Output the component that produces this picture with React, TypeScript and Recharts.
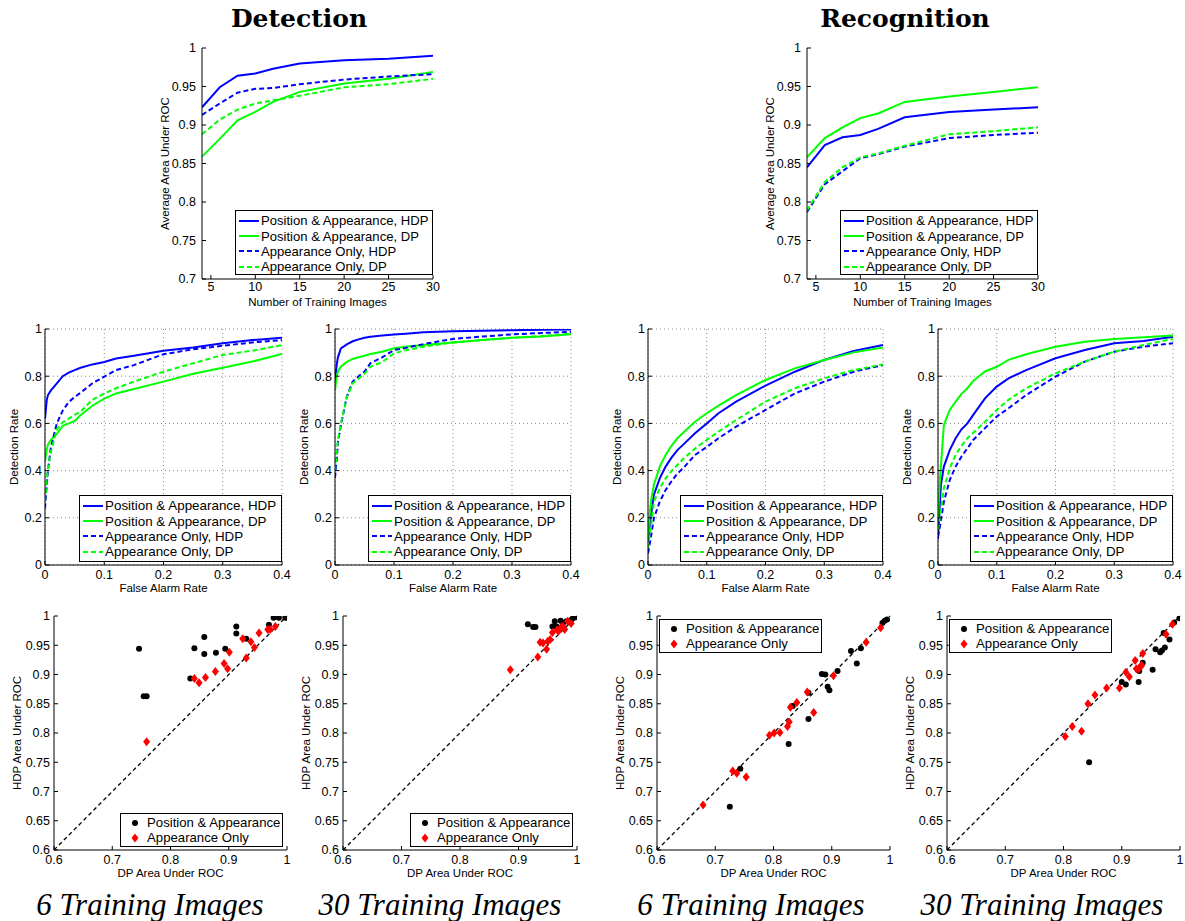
import React from 'react';
import {
  LineChart,
  Line,
  ScatterChart,
  Scatter,
  XAxis,
  YAxis,
  CartesianGrid,
  ReferenceLine,
  Legend,
} from 'recharts';

const SANS = 'Arial, "Liberation Sans", Helvetica, sans-serif';
const BLUE = '#0000ff';
const GREEN = '#00ff00';
const RED = '#ff0000';

// ---- top row: average AUC vs number of training images ----
const trainSizes = [4, 6, 8, 10, 12, 15, 20, 25, 30];
const detPosHdp = [0.923, 0.949, 0.964, 0.967, 0.973, 0.98, 0.984, 0.986, 0.99];
const detPosDp = [0.859, 0.882, 0.906, 0.917, 0.93, 0.943, 0.954, 0.96, 0.969];
const detAppHdp = [0.913, 0.928, 0.942, 0.947, 0.948, 0.953, 0.959, 0.963, 0.966];
const detAppDp = [0.888, 0.907, 0.92, 0.928, 0.932, 0.938, 0.949, 0.953, 0.96];
const recPosHdp = [0.845, 0.874, 0.884, 0.887, 0.895, 0.91, 0.917, 0.92, 0.923];
const recPosDp = [0.858, 0.883, 0.897, 0.909, 0.915, 0.93, 0.937, 0.943, 0.949];
const recAppHdp = [0.787, 0.823, 0.84, 0.857, 0.862, 0.872, 0.883, 0.887, 0.89];
const recAppDp = [0.789, 0.826, 0.845, 0.858, 0.863, 0.873, 0.888, 0.892, 0.897];
const sizeTicks = [5, 10, 15, 20, 25, 30];
const aucTicks = [0.7, 0.75, 0.8, 0.85, 0.9, 0.95, 1];

// ---- middle row: ROC curves ----
const faRate = [0, 0.003, 0.005, 0.01, 0.02, 0.03, 0.04, 0.05, 0.06, 0.08, 0.1, 0.12, 0.15, 0.2, 0.25, 0.3, 0.35, 0.4];
const roc6DetPosHdp = [0.62, 0.7, 0.72, 0.74, 0.77, 0.8, 0.815, 0.826, 0.836, 0.85, 0.86, 0.875, 0.887, 0.908, 0.922, 0.94, 0.953, 0.963];
const roc6DetPosDp = [0.44, 0.49, 0.51, 0.53, 0.556, 0.59, 0.6, 0.61, 0.635, 0.675, 0.705, 0.727, 0.746, 0.777, 0.81, 0.836, 0.862, 0.894];
const roc6DetAppHdp = [0.24, 0.34, 0.4, 0.5, 0.6, 0.655, 0.69, 0.712, 0.73, 0.77, 0.798, 0.826, 0.847, 0.893, 0.914, 0.929, 0.943, 0.953];
const roc6DetAppDp = [0.27, 0.36, 0.41, 0.48, 0.575, 0.605, 0.62, 0.636, 0.65, 0.7, 0.727, 0.749, 0.777, 0.819, 0.855, 0.89, 0.908, 0.932];
const roc30DetPosHdp = [0.78, 0.85, 0.88, 0.918, 0.935, 0.948, 0.956, 0.963, 0.967, 0.972, 0.977, 0.98, 0.986, 0.99, 0.993, 0.995, 0.997, 0.998];
const roc30DetPosDp = [0.74, 0.8, 0.82, 0.84, 0.861, 0.873, 0.88, 0.887, 0.894, 0.904, 0.918, 0.925, 0.932, 0.943, 0.953, 0.963, 0.968, 0.978];
const roc30DetAppHdp = [0.37, 0.45, 0.52, 0.593, 0.713, 0.777, 0.8, 0.82, 0.855, 0.88, 0.911, 0.92, 0.936, 0.958, 0.968, 0.977, 0.983, 0.988];
const roc30DetAppDp = [0.4, 0.48, 0.53, 0.6, 0.71, 0.77, 0.79, 0.81, 0.84, 0.86, 0.897, 0.91, 0.925, 0.943, 0.953, 0.963, 0.97, 0.98];
const roc6RecPosHdp = [0.1, 0.17, 0.21, 0.297, 0.367, 0.417, 0.455, 0.487, 0.51, 0.558, 0.6, 0.643, 0.692, 0.76, 0.819, 0.869, 0.907, 0.932];
const roc6RecPosDp = [0.12, 0.22, 0.27, 0.34, 0.417, 0.466, 0.505, 0.537, 0.56, 0.607, 0.643, 0.675, 0.72, 0.784, 0.833, 0.869, 0.901, 0.922];
const roc6RecAppHdp = [0.05, 0.09, 0.12, 0.198, 0.268, 0.318, 0.355, 0.388, 0.41, 0.466, 0.5, 0.537, 0.586, 0.657, 0.727, 0.777, 0.819, 0.847];
const roc6RecAppDp = [0.07, 0.13, 0.16, 0.268, 0.325, 0.367, 0.398, 0.424, 0.45, 0.494, 0.53, 0.565, 0.614, 0.692, 0.749, 0.791, 0.826, 0.85];
const roc30RecPosHdp = [0.11, 0.25, 0.34, 0.417, 0.487, 0.537, 0.575, 0.6, 0.636, 0.706, 0.756, 0.791, 0.826, 0.876, 0.911, 0.94, 0.949, 0.967];
const roc30RecPosDp = [0.2, 0.35, 0.42, 0.593, 0.657, 0.692, 0.725, 0.749, 0.78, 0.82, 0.84, 0.869, 0.893, 0.925, 0.946, 0.958, 0.965, 0.972];
const roc30RecAppHdp = [0.12, 0.16, 0.19, 0.268, 0.36, 0.417, 0.46, 0.494, 0.53, 0.58, 0.629, 0.664, 0.72, 0.798, 0.862, 0.904, 0.925, 0.94];
const roc30RecAppDp = [0.15, 0.2, 0.23, 0.325, 0.41, 0.466, 0.505, 0.537, 0.56, 0.607, 0.657, 0.7, 0.749, 0.812, 0.862, 0.904, 0.932, 0.958];
const faTicks = [0, 0.1, 0.2, 0.3, 0.4];
const rateTicks = [0, 0.2, 0.4, 0.6, 0.8, 1];

// ---- bottom row: per-category AUC, DP (x) against HDP (y) ----
const det6PosDp = [0.746, 0.754, 0.759, 0.834, 0.841, 0.858, 0.858, 0.878, 0.894, 0.913, 0.913, 0.93, 0.969, 0.977, 0.986, 0.997];
const det6PosHdp = [0.944, 0.863, 0.863, 0.893, 0.945, 0.964, 0.935, 0.937, 0.944, 0.982, 0.97, 0.961, 0.985, 0.997, 0.997, 0.997];
const det6AppDp = [0.759, 0.841, 0.849, 0.86, 0.877, 0.892, 0.898, 0.901, 0.924, 0.93, 0.938, 0.944, 0.952, 0.967, 0.971, 0.98];
const det6AppHdp = [0.785, 0.893, 0.886, 0.895, 0.905, 0.919, 0.91, 0.938, 0.961, 0.928, 0.956, 0.946, 0.971, 0.977, 0.977, 0.982];
const det30PosDp = [0.916, 0.925, 0.929, 0.958, 0.962, 0.965, 0.968, 0.972, 0.976, 0.982, 0.986, 0.99, 0.993, 0.998];
const det30PosHdp = [0.986, 0.981, 0.981, 0.982, 0.991, 0.982, 0.978, 0.992, 0.988, 0.991, 0.99, 0.993, 0.996, 0.998];
const det30AppDp = [0.886, 0.933, 0.937, 0.942, 0.948, 0.95, 0.954, 0.958, 0.966, 0.969, 0.973, 0.976, 0.979, 0.984, 0.99];
const det30AppHdp = [0.908, 0.93, 0.955, 0.954, 0.943, 0.957, 0.96, 0.972, 0.976, 0.975, 0.981, 0.982, 0.977, 0.991, 0.987];
const rec6PosDp = [0.725, 0.743, 0.826, 0.833, 0.86, 0.86, 0.883, 0.889, 0.893, 0.896, 0.91, 0.933, 0.943, 0.95, 0.987, 0.991, 0.995];
const rec6PosHdp = [0.674, 0.739, 0.781, 0.846, 0.824, 0.869, 0.901, 0.9, 0.879, 0.873, 0.906, 0.94, 0.919, 0.945, 0.988, 0.992, 0.994];
const rec6AppDp = [0.679, 0.73, 0.737, 0.753, 0.793, 0.801, 0.811, 0.824, 0.827, 0.829, 0.84, 0.858, 0.869, 0.903, 0.959, 0.984];
const rec6AppHdp = [0.677, 0.735, 0.731, 0.725, 0.796, 0.8, 0.801, 0.811, 0.819, 0.844, 0.852, 0.87, 0.835, 0.898, 0.955, 0.98];
const rec30PosDp = [0.844, 0.9, 0.907, 0.929, 0.93, 0.936, 0.953, 0.958, 0.966, 0.969, 0.974, 0.982, 0.99, 0.999, 0.972];
const rec30PosHdp = [0.75, 0.887, 0.883, 0.887, 0.906, 0.92, 0.908, 0.943, 0.938, 0.941, 0.946, 0.96, 0.989, 0.996, 0.971];
const rec30AppDp = [0.803, 0.815, 0.831, 0.842, 0.854, 0.874, 0.896, 0.907, 0.913, 0.923, 0.925, 0.929, 0.933, 0.934, 0.936, 0.976, 0.987];
const rec30AppHdp = [0.794, 0.811, 0.803, 0.85, 0.865, 0.877, 0.877, 0.904, 0.896, 0.924, 0.91, 0.91, 0.914, 0.916, 0.936, 0.969, 0.986];
const scatterXTicks = [0.6, 0.7, 0.8, 0.9, 1];
const scatterYTicks = [0.6, 0.65, 0.7, 0.75, 0.8, 0.85, 0.9, 0.95, 1];
const diagonal = [0.6, 1];

const curveLabels = ['Position & Appearance, HDP', 'Position & Appearance, DP', 'Appearance Only, HDP', 'Appearance Only, DP'];
const pointLabels = ['Position & Appearance', 'Appearance Only'];
const curveKeys = ['posHdp', 'posDp', 'appHdp', 'appDp'];
const curveStyles = [
  { color: BLUE, dash: undefined },
  { color: GREEN, dash: undefined },
  { color: BLUE, dash: '5 3' },
  { color: GREEN, dash: '5 3' },
];

type Box = { x: number; y: number; w: number; h: number };
type Row = { L: number; yGap: number; xGap: number };

const T = 8;
const R = 10;
const B = 46;
const TOP_ROW: Row = { L: 74, yGap: 6, xGap: 3 };
const MID_ROW: Row = { L: 62, yGap: 3, xGap: 5 };
const BOT_ROW: Row = { L: 74, yGap: 4, xGap: 5 };

const tickStyle = { fill: '#000', fontSize: 12.5, fontFamily: SANS };
const labelStyle = { fill: '#000', fontSize: 11.5, fontFamily: SANS };

function toRows(xs: number[], series: number[][]) {
  return xs.map((x, i) => {
    const row: Record<string, number> = { x };
    curveKeys.forEach((k, j) => (row[k] = series[j][i]));
    return row;
  });
}

function toPoints(dp: number[], hdp: number[]) {
  return dp.map((x, i) => ({ x, y: hdp[i] }));
}

// top and right edges of the MATLAB box, ticks pointing inward
function frameAxes(xDomain: number[], xTicks: number[], yDomain: number[], yTicks: number[]) {
  return [
    <XAxis key="ft" xAxisId="top" orientation="top" type="number" domain={xDomain} ticks={xTicks}
      allowDataOverflow height={0} tickSize={-4} tickFormatter={() => ''} stroke="#000" />,
    <YAxis key="fr" yAxisId="right" orientation="right" type="number" domain={yDomain} ticks={yTicks}
      allowDataOverflow width={0} tickSize={-4} tickFormatter={() => ''} stroke="#000" />,
  ];
}

function CurveKey({ width, height, fontSize }: { width: number; height: number; fontSize: number }) {
  return (
    <div style={{ boxSizing: 'border-box', width, height, border: '1px solid #000', background: '#fff',
      padding: '2px 0 0 3px', fontFamily: SANS, fontSize, color: '#000' }}>
      {curveLabels.map((label, i) => (
        <div key={label} style={{ display: 'flex', alignItems: 'center', height: 15.4, whiteSpace: 'nowrap' }}>
          <svg width={20} height={6} style={{ marginRight: 2, flex: 'none' }}>
            <line x1={0} y1={3} x2={20} y2={3} stroke={curveStyles[i].color} strokeWidth={2}
              strokeDasharray={curveStyles[i].dash} />
          </svg>
          <span>{label}</span>
        </div>
      ))}
    </div>
  );
}

function PointKey({ width, height }: { width: number; height: number }) {
  return (
    <div style={{ boxSizing: 'border-box', width, height, border: '1px solid #000', background: '#fff',
      padding: '1px 0 0 0', fontFamily: SANS, fontSize: 13.2, color: '#000' }}>
      {pointLabels.map((label, i) => (
        <div key={label} style={{ display: 'flex', alignItems: 'center', height: 15.3, whiteSpace: 'nowrap' }}>
          <svg width={26} height={10} style={{ flex: 'none' }}>
            {i === 0 ? <circle cx={14} cy={5} r={3} fill="#000" />
              : <polygon points="14,0.5 17.5,5 14,9.5 10.5,5" fill={RED} />}
          </svg>
          <span>{label}</span>
        </div>
      ))}
    </div>
  );
}

const dotShape = (p: any) => <circle cx={p.cx} cy={p.cy} r={3} fill="#000" />;
const diamondShape = (p: any) => (
  <polygon points={`${p.cx},${p.cy - 4.5} ${p.cx + 3.5},${p.cy} ${p.cx},${p.cy + 4.5} ${p.cx - 3.5},${p.cy}`} fill={RED} />
);

function CurvePanel({ box, row, data, xDomain, xTicks, yDomain, yTicks, xLabel, yLabel, grid, keyW, keyTop }: any) {
  const keyH = grid ? 67 : 65;
  return (
    <div style={{ position: 'absolute', left: box.x - row.L, top: box.y - T }}>
      <LineChart width={row.L + box.w + R} height={T + box.h + B} data={data}
        margin={{ top: T, right: R, left: 0, bottom: 0 }}>
        {grid && <CartesianGrid stroke="#8a8a8a" strokeDasharray="1 3" />}
        <XAxis type="number" dataKey="x" domain={xDomain} ticks={xTicks} allowDataOverflow interval={0}
          stroke="#000" tickSize={-4} tickMargin={4 + row.xGap} height={B} tick={tickStyle}
          label={{ value: xLabel, position: 'center', ...labelStyle }} />
        <YAxis type="number" domain={yDomain} ticks={yTicks} allowDataOverflow interval={0}
          stroke="#000" tickSize={-4} tickMargin={4 + row.yGap} width={row.L} tick={tickStyle}
          label={{ value: yLabel, angle: -90, position: 'center', ...labelStyle }} />
        {frameAxes(xDomain, xTicks, yDomain, yTicks)}
        {curveKeys.map((k, i) => (
          <Line key={k} type="linear" dataKey={k} stroke={curveStyles[i].color} strokeWidth={2}
            strokeDasharray={curveStyles[i].dash} dot={false} isAnimationActive={false} />
        ))}
        <Legend layout="vertical" align="center" verticalAlign="middle"
          wrapperStyle={{ left: row.L + box.w - keyW, top: T + keyTop, width: keyW, height: keyH }}
          content={() => <CurveKey width={keyW} height={keyH} fontSize={grid ? 13.4 : 13.1} />} />
      </LineChart>
    </div>
  );
}

function AucScatter({ box, pos, app, keyAtTop }: { box: Box; pos: any[]; app: any[]; keyAtTop?: boolean }) {
  const row = BOT_ROW;
  const keyW = 163;
  const keyH = 34;
  const keyLeft = keyAtTop ? row.L + 2 : row.L + box.w - 4 - keyW;
  const keyTop = keyAtTop ? T + 3 : T + box.h - 3 - keyH;
  return (
    <div style={{ position: 'absolute', left: box.x - row.L, top: box.y - T }}>
      <ScatterChart width={row.L + box.w + R} height={T + box.h + B}
        margin={{ top: T, right: R, left: 0, bottom: 0 }}>
        <XAxis type="number" dataKey="x" domain={[0.6, 1]} ticks={scatterXTicks} allowDataOverflow interval={0}
          stroke="#000" tickSize={-4} tickMargin={4 + row.xGap} height={B} tick={tickStyle}
          label={{ value: 'DP Area Under ROC', position: 'center', ...labelStyle }} />
        <YAxis type="number" dataKey="y" domain={[0.6, 1]} ticks={scatterYTicks} allowDataOverflow interval={0}
          stroke="#000" tickSize={-4} tickMargin={4 + row.yGap} width={row.L} tick={tickStyle}
          label={{ value: 'HDP Area Under ROC', angle: -90, position: 'center', ...labelStyle }} />
        {frameAxes([0.6, 1], scatterXTicks, [0.6, 1], scatterYTicks)}
        <ReferenceLine segment={[{ x: diagonal[0], y: diagonal[0] }, { x: diagonal[1], y: diagonal[1] }]}
          stroke="#000" strokeWidth={1.3} strokeDasharray="4 3" ifOverflow="visible" />
        <Scatter name={pointLabels[0]} data={pos} shape={dotShape} isAnimationActive={false} />
        <Scatter name={pointLabels[1]} data={app} shape={diamondShape} isAnimationActive={false} />
        <Legend layout="vertical" align="center" verticalAlign="middle"
          wrapperStyle={{ left: keyLeft, top: keyTop, width: keyW, height: keyH }}
          content={() => <PointKey width={keyW} height={keyH} />} />
      </ScatterChart>
    </div>
  );
}

export default function App() {
  const serif = '"Liberation Serif", "Times New Roman", serif';
  return (
    <div style={{ position: 'absolute', left: 0, top: 0, width: 1185, height: 921, overflow: 'hidden', background: '#fff' }}>
      <svg width={1185} height={921} style={{ position: 'absolute', left: 0, top: 0 }}>
        <text x={299} y={27} textAnchor="middle" fontFamily='"DejaVu Serif", serif' fontWeight="bold" fontSize={25}>Detection</text>
        <text x={905} y={27} textAnchor="middle" fontFamily='"DejaVu Serif", serif' fontWeight="bold" fontSize={25}>Recognition</text>
        <text x={150} y={915} textAnchor="middle" fontFamily={serif} fontStyle="italic" fontSize={31}>6 Training Images</text>
        <text x={440} y={915} textAnchor="middle" fontFamily={serif} fontStyle="italic" fontSize={31}>30 Training Images</text>
        <text x={751} y={915} textAnchor="middle" fontFamily={serif} fontStyle="italic" fontSize={31}>6 Training Images</text>
        <text x={1042} y={915} textAnchor="middle" fontFamily={serif} fontStyle="italic" fontSize={31}>30 Training Images</text>
      </svg>

      <CurvePanel box={{ x: 202, y: 48, w: 231, h: 231 }} row={TOP_ROW}
        data={toRows(trainSizes, [detPosHdp, detPosDp, detAppHdp, detAppDp])}
        xDomain={[4, 30]} xTicks={sizeTicks} yDomain={[0.7, 1]} yTicks={aucTicks}
        xLabel="Number of Training Images" yLabel="Average Area Under ROC" keyW={198} keyTop={162} />
      <CurvePanel box={{ x: 807, y: 48, w: 231, h: 231 }} row={TOP_ROW}
        data={toRows(trainSizes, [recPosHdp, recPosDp, recAppHdp, recAppDp])}
        xDomain={[4, 30]} xTicks={sizeTicks} yDomain={[0.7, 1]} yTicks={aucTicks}
        xLabel="Number of Training Images" yLabel="Average Area Under ROC" keyW={198} keyTop={162} />

      <CurvePanel box={{ x: 45, y: 329, w: 237, h: 236 }} row={MID_ROW} grid
        data={toRows(faRate, [roc6DetPosHdp, roc6DetPosDp, roc6DetAppHdp, roc6DetAppDp])}
        xDomain={[0, 0.4]} xTicks={faTicks} yDomain={[0, 1]} yTicks={rateTicks}
        xLabel="False Alarm Rate" yLabel="Detection Rate" keyW={203} keyTop={166} />
      <CurvePanel box={{ x: 335, y: 329, w: 236, h: 236 }} row={MID_ROW} grid
        data={toRows(faRate, [roc30DetPosHdp, roc30DetPosDp, roc30DetAppHdp, roc30DetAppDp])}
        xDomain={[0, 0.4]} xTicks={faTicks} yDomain={[0, 1]} yTicks={rateTicks}
        xLabel="False Alarm Rate" yLabel="Detection Rate" keyW={203} keyTop={166} />
      <CurvePanel box={{ x: 648, y: 329, w: 235, h: 236 }} row={MID_ROW} grid
        data={toRows(faRate, [roc6RecPosHdp, roc6RecPosDp, roc6RecAppHdp, roc6RecAppDp])}
        xDomain={[0, 0.4]} xTicks={faTicks} yDomain={[0, 1]} yTicks={rateTicks}
        xLabel="False Alarm Rate" yLabel="Detection Rate" keyW={203} keyTop={166} />
      <CurvePanel box={{ x: 938, y: 329, w: 235, h: 236 }} row={MID_ROW} grid
        data={toRows(faRate, [roc30RecPosHdp, roc30RecPosDp, roc30RecAppHdp, roc30RecAppDp])}
        xDomain={[0, 0.4]} xTicks={faTicks} yDomain={[0, 1]} yTicks={rateTicks}
        xLabel="False Alarm Rate" yLabel="Detection Rate" keyW={203} keyTop={166} />

      <AucScatter box={{ x: 54, y: 616, w: 233, h: 234 }} pos={toPoints(det6PosDp, det6PosHdp)} app={toPoints(det6AppDp, det6AppHdp)} />
      <AucScatter box={{ x: 343, y: 616, w: 234, h: 234 }} pos={toPoints(det30PosDp, det30PosHdp)} app={toPoints(det30AppDp, det30AppHdp)} />
      <AucScatter box={{ x: 657, y: 616, w: 233, h: 234 }} pos={toPoints(rec6PosDp, rec6PosHdp)} app={toPoints(rec6AppDp, rec6AppHdp)} keyAtTop />
      <AucScatter box={{ x: 947, y: 616, w: 233, h: 234 }} pos={toPoints(rec30PosDp, rec30PosHdp)} app={toPoints(rec30AppDp, rec30AppHdp)} keyAtTop />
    </div>
  );
}
